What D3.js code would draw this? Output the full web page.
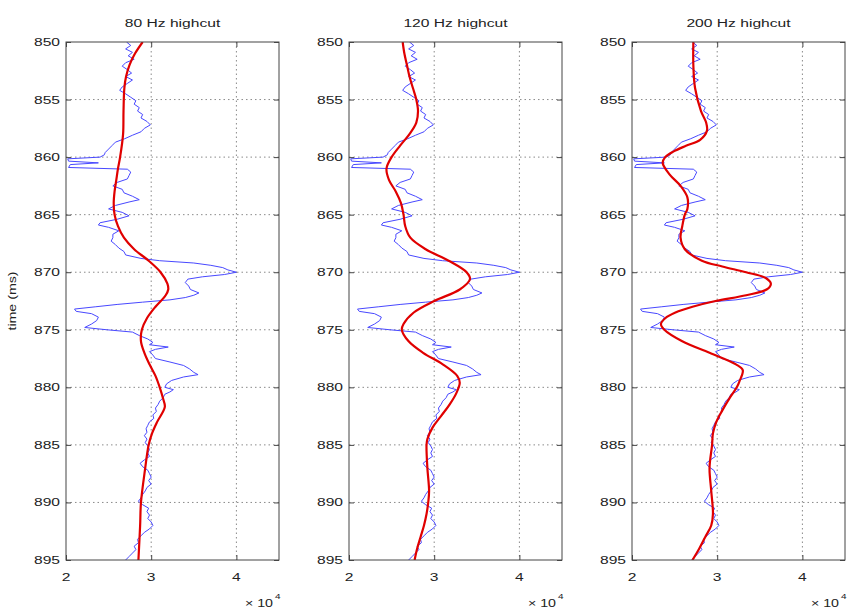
<!DOCTYPE html>
<html>
<head>
<meta charset="utf-8">
<script src="https://cdn.jsdelivr.net/npm/d3@7"></script>
<style>
  html, body { margin: 0; padding: 0; background: #ffffff; }
  svg { display: block; }
  text { font-family: "Liberation Sans", Arial, sans-serif; fill: #222; }
</style>
</head>
<body>
<svg id="chart" width="848" height="611"></svg>
<script>
// ---------------- DATA ----------------
const panelTitles = ["80 Hz highcut", "120 Hz highcut", "200 Hz highcut"];
const xTicks = [2, 3, 4];
const yTicks = [850, 855, 860, 865, 870, 875, 880, 885, 890, 895];
const xDomain = [2, 4.5];      // amplitude, x 10^4
const yDomain = [850, 895];    // time (ms)
const yLabel = "time (ms)";

// raw trace (blue): [time ms, amplitude x1e4]
const rawTrace = [
  [850.0,2.71],[850.3,2.76],[850.6,2.70],[850.9,2.78],[851.2,2.73],[851.5,2.80],[851.8,2.70],
  [852.1,2.66],[852.4,2.72],[852.7,2.77],[853.0,2.70],[853.3,2.78],[853.6,2.72],[853.9,2.66],
  [854.2,2.63],[854.5,2.70],[854.8,2.76],[855.1,2.82],[855.4,2.80],[855.7,2.86],[856.0,2.84],
  [856.3,2.90],[856.6,2.88],[856.9,2.95],[857.2,2.99],[857.5,2.92],[857.8,2.88],[858.1,2.78],
  [858.4,2.69],[858.7,2.58],[859.0,2.54],[859.3,2.50],[859.6,2.46],[859.8,2.45],[860.0,2.40],
  [860.15,2.02],[860.35,2.03],[860.5,2.38],[860.65,2.05],[860.9,2.03],[861.05,2.72],[861.3,2.76],
  [861.6,2.74],[861.9,2.72],[862.2,2.60],[862.5,2.55],[862.8,2.66],[863.1,2.68],[863.4,2.78],
  [863.7,2.86],[863.9,2.74],[864.2,2.58],[864.5,2.50],[864.8,2.66],[865.1,2.74],[865.4,2.60],
  [865.7,2.40],[865.9,2.38],[866.1,2.50],[866.4,2.62],[866.7,2.55],[867.0,2.55],[867.3,2.53],
  [867.6,2.58],[867.9,2.62],[868.2,2.68],[868.5,2.70],[868.8,2.88],[869.0,3.10],[869.2,3.50],
  [869.4,3.70],[869.6,3.84],[869.8,3.90],[870.0,4.00],[870.2,3.86],[870.4,3.60],[870.6,3.43],
  [870.9,3.40],[871.2,3.44],[871.5,3.46],[871.8,3.56],[872.0,3.50],[872.2,3.40],[872.4,3.22],
  [872.6,2.90],[872.8,2.60],[873.0,2.35],[873.2,2.10],[873.4,2.12],[873.6,2.30],[873.9,2.38],
  [874.2,2.36],[874.5,2.30],[874.8,2.22],[875.0,2.48],[875.2,2.78],[875.5,2.86],[875.8,2.96],
  [876.1,3.02],[876.3,2.98],[876.5,3.20],[876.7,3.05],[876.9,2.98],[877.2,3.02],[877.5,3.05],
  [877.8,3.22],[878.1,3.38],[878.4,3.45],[878.7,3.50],[878.9,3.55],[879.1,3.38],[879.4,3.24],
  [879.7,3.18],[880.0,3.16],[880.2,3.26],[880.4,3.22],[880.6,3.16],[880.9,3.14],[881.2,3.10],
  [881.5,3.08],[881.8,3.05],[882.1,3.06],[882.4,3.02],[882.7,3.03],[883.0,2.98],[883.3,2.96],
  [883.6,2.94],[883.9,2.95],[884.2,2.92],[884.5,2.95],[884.8,2.93],[885.1,2.96],[885.4,2.98],
  [885.7,2.96],[886.0,2.98],[886.3,2.92],[886.6,2.87],[886.9,2.90],[887.2,2.96],[887.5,2.98],
  [887.8,3.00],[888.1,2.97],[888.4,3.00],[888.7,2.95],[889.0,2.93],[889.3,2.90],[889.6,2.88],
  [889.9,2.85],[890.2,2.90],[890.5,2.97],[890.8,2.95],[891.1,2.98],[891.4,2.96],[891.7,3.00],
  [892.0,3.02],[892.3,2.98],[892.6,2.92],[892.9,2.88],[893.2,2.84],[893.5,2.85],[893.8,2.80],
  [894.1,2.82],[894.4,2.78],[894.7,2.74],[895.0,2.70]
];

// filtered traces (red)
const filtered80 = [
  [850,2.90],[851,2.81],[852,2.745],[853,2.705],[854,2.685],[856,2.675],[858,2.67],
  [860,2.635],[861,2.61],[862,2.59],[863,2.57],[864,2.56],[865,2.57],
  [866,2.61],[867,2.68],[868,2.80],[869,2.97],[870,3.11],[871,3.19],[871.5,3.20],[872,3.17],
  [873,3.05],[874,2.95],[875,2.89],[876,2.88],[877,2.92],[878,2.98],[879,3.05],[880,3.10],
  [881,3.14],[881.7,3.16],[883,3.07],[884,3.01],[885,2.97],[887,2.93],[890,2.88],[892,2.87],
  [895,2.85]
];
const filtered120 = [
  [850,2.63],[851,2.65],[852,2.68],[853,2.71],[854,2.75],[855,2.79],[856,2.81],[857,2.79],
  [858,2.71],[859,2.60],[860,2.50],[861,2.44],[862,2.47],[863,2.55],[864,2.61],[865,2.64],
  [866,2.66],[867,2.72],[868,2.90],[869,3.17],[870,3.38],[870.6,3.42],[871.5,3.30],[872.5,3.00],
  [873.5,2.76],[874.5,2.64],[875,2.62],[876,2.70],[877,2.87],[878,3.10],[879,3.27],[879.6,3.30],
  [880.5,3.26],[881.5,3.18],[882.5,3.08],[883.5,2.98],[884.5,2.92],[885,2.91],[887,2.92],
  [889,2.94],[890,2.93],[891,2.91],[892,2.88],[893,2.84],[894,2.80],[895,2.77]
];
const filtered200 = [
  [850,2.72],[852,2.72],[854,2.74],[856,2.81],[857,2.87],[857.7,2.88],[858.5,2.80],[859,2.64],
  [859.5,2.49],[860,2.39],[860.5,2.36],[861.5,2.44],[862.5,2.57],[863.5,2.65],[864.5,2.65],
  [865,2.62],[866,2.59],[867,2.57],[868,2.62],[869,2.82],[869.5,3.06],[870,3.34],[870.5,3.57],
  [871,3.63],[871.5,3.58],[872,3.34],[872.5,2.98],[873,2.71],[873.5,2.51],[874,2.39],[874.5,2.34],
  [875,2.38],[876,2.59],[877,2.91],[878,3.22],[878.5,3.30],[879.5,3.26],[880,3.23],[881,3.14],
  [882,3.06],[883,2.99],[884,2.95],[885,2.94],[887,2.91],[889,2.93],[891,2.95],[892,2.93],
  [893,2.86],[894,2.79],[895,2.71]
];
const filteredSeries = [filtered80, filtered120, filtered200];

// ---------------- LAYOUT ----------------
const svg = d3.select("#chart");
const panelLeft = [66, 349, 632];
const panelW = 213;
const plotTop = 42, plotBottom = 560;
const SX = 1.42; // horizontal text stretch of the reference

function stretchedText(parent, x, y, str, anchor, size, rotate) {
  return parent.append("text")
    .attr("transform", `translate(${x},${y})` + (rotate ? ` rotate(${rotate})` : "") + ` scale(${SX},1)`)
    .attr("text-anchor", anchor)
    .attr("font-size", size)
    .text(str);
}

const yScale = d3.scaleLinear().domain(yDomain).range([plotTop, plotBottom]);

panelTitles.forEach((title, i) => {
  const x = d3.scaleLinear().domain(xDomain).range([panelLeft[i], panelLeft[i] + panelW]);
  const g = svg.append("g");
  const clipId = "clip" + i;
  svg.append("clipPath").attr("id", clipId).append("rect")
    .attr("x", panelLeft[i]).attr("y", plotTop).attr("width", panelW).attr("height", plotBottom - plotTop);

  // grid
  g.selectAll(".hg").data(yTicks.slice(1, -1)).enter().append("line")
    .attr("x1", x(xDomain[0])).attr("x2", x(xDomain[1]))
    .attr("y1", d => yScale(d)).attr("y2", d => yScale(d))
    .attr("stroke", "#8a8a8a").attr("stroke-width", 1).attr("stroke-dasharray", "1.5,3");
  g.selectAll(".vg").data(xTicks.slice(1)).enter().append("line")
    .attr("x1", d => x(d)).attr("x2", d => x(d))
    .attr("y1", plotTop).attr("y2", plotBottom)
    .attr("stroke", "#8a8a8a").attr("stroke-width", 1).attr("stroke-dasharray", "1.5,3");

  // traces
  const line = d3.line().x(d => x(d[1])).y(d => yScale(d[0]));
  g.append("path").datum(rawTrace)
    .attr("clip-path", `url(#${clipId})`)
    .attr("d", line)
    .attr("fill", "none").attr("stroke", "#4848ff").attr("stroke-width", 1);
  const smooth = d3.line().x(d => x(d[1])).y(d => yScale(d[0])).curve(d3.curveCatmullRom.alpha(0.5));
  g.append("path").datum(filteredSeries[i])
    .attr("clip-path", `url(#${clipId})`)
    .attr("d", smooth)
    .attr("fill", "none").attr("stroke", "#e00000").attr("stroke-width", 2.2);

  // axes (box with inward ticks)
  const tl = 5;
  const axL = d3.axisLeft(yScale).tickValues(yTicks).tickSize(-tl).tickFormat("");
  const axR = d3.axisRight(yScale).tickValues(yTicks).tickSize(-tl).tickFormat("");
  const axB = d3.axisBottom(x).tickValues(xTicks).tickSize(-tl).tickFormat("");
  const axT = d3.axisTop(x).tickValues(xTicks).tickSize(-tl).tickFormat("");
  [[axL, `translate(${x(xDomain[0])},0)`], [axR, `translate(${x(xDomain[1])},0)`],
   [axB, `translate(0,${plotBottom})`], [axT, `translate(0,${plotTop})`]].forEach(([ax, tr]) => {
    const a = g.append("g").attr("transform", tr).call(ax);
    a.select(".domain").remove();
    a.selectAll("line").attr("stroke", "#444");
  });
  g.append("rect")
    .attr("x", x(xDomain[0])).attr("y", plotTop)
    .attr("width", x(xDomain[1]) - x(xDomain[0])).attr("height", plotBottom - plotTop)
    .attr("fill", "none").attr("stroke", "#444").attr("stroke-width", 1);

  // tick labels
  yTicks.forEach(t => stretchedText(g, x(xDomain[0]) - 6, yScale(t) + 4, String(t), "end", 11));
  xTicks.forEach(t => stretchedText(g, x(t), plotBottom + 21, String(t), "middle", 11));

  // exponent label
  stretchedText(g, x(xDomain[1]) - 6, 607, "\u00d7 10", "end", 10);
  stretchedText(g, x(xDomain[1]) - 4, 599, "4", "start", 7);

  // title
  stretchedText(g, (x(xDomain[0]) + x(xDomain[1])) / 2, 27, title, "middle", 11);
});

// y-axis label
stretchedText(svg, 16, (plotTop + plotBottom) / 2, yLabel, "middle", 10, -90);
</script>
</body>
</html>
